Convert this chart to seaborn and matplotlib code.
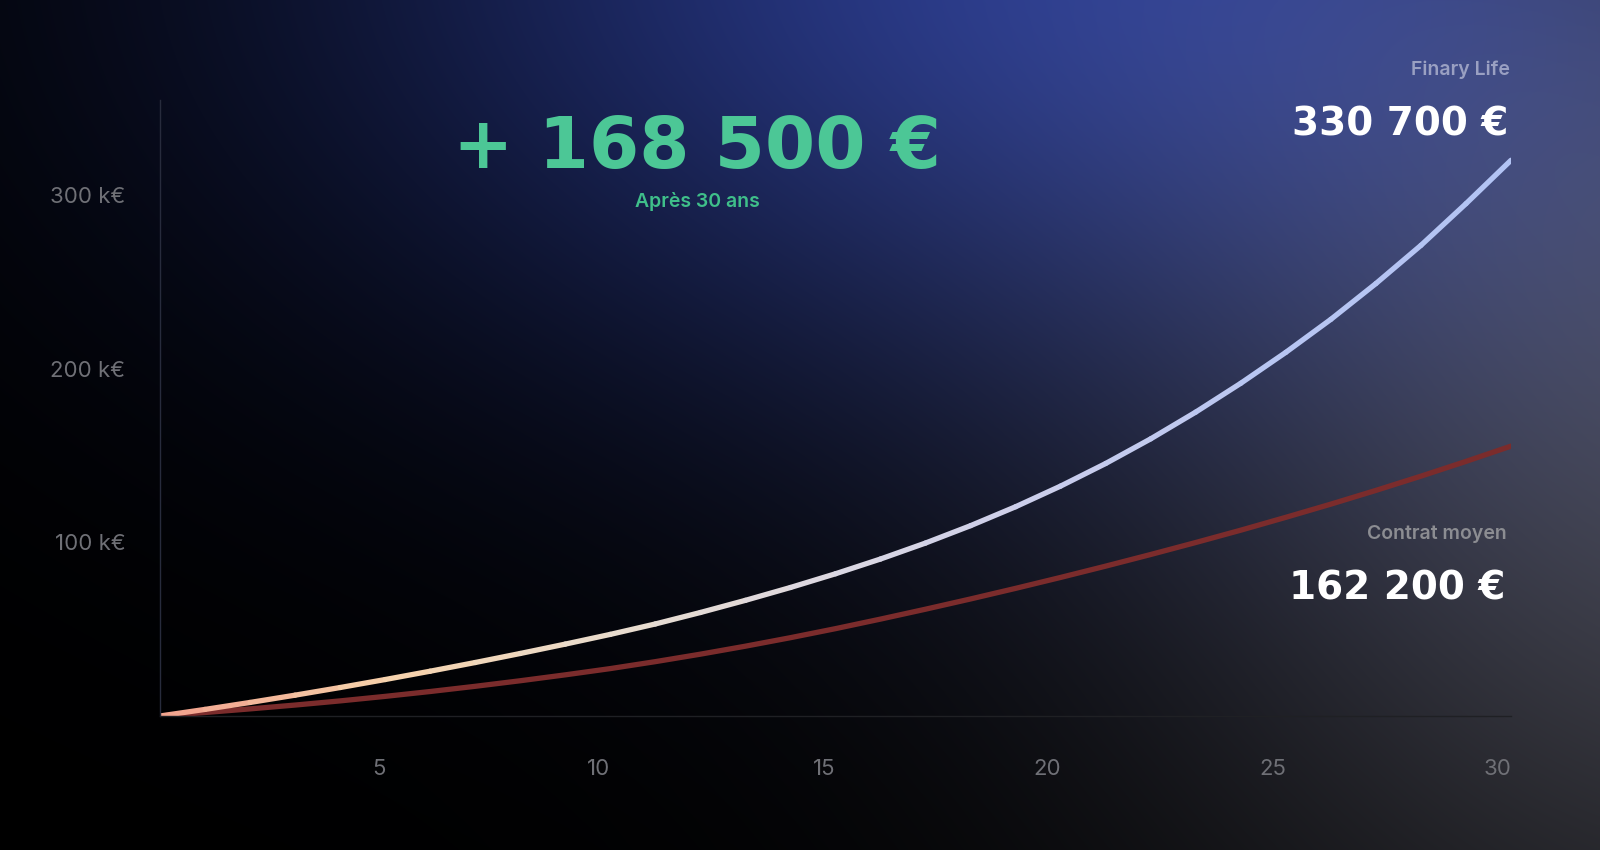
import numpy as np
import pandas as pd
import seaborn as sns
import matplotlib.pyplot as plt
from matplotlib.collections import LineCollection
from matplotlib.colors import LinearSegmentedColormap


# valeurs (en k€)
annees = list(range(31))
finary_life = [0, 3.8, 7.8, 12.0, 16.4, 21.0, 25.8, 30.8, 36.0, 41.4,
               47.0, 53.0, 59.6, 66.6, 74.0, 81.9, 90.4, 99.6, 109.6, 120.5,
               132.4, 145.4, 159.6, 175.0, 191.6, 209.4, 228.4, 249.0, 271.0, 295.0, 320.0]
contrat_moyen = [0, 2.0, 4.1, 6.3, 8.7, 11.3, 14.1, 17.1, 20.3, 23.7,
                 27.3, 31.3, 35.6, 40.2, 45.1, 50.3, 55.8, 61.5, 67.4, 73.5,
                 79.8, 86.3, 93.0, 99.9, 107.0, 114.4, 122.0, 129.9, 138.1, 146.6, 155.4]
noms = ["Finary Life", "Contrat moyen"]
montants_finaux = ["330 700 €", "162 200 €"]
gain = "+ 168 500 €"
duree = "Après 30 ans"
y_ticks = [100, 200, 300]
y_labels = ["100 k€", "200 k€", "300 k€"]
x_ticks = [5, 10, 15, 20, 25, 30]

W, H = 1600, 850


def fond_degrade():
    yy, xx = np.mgrid[0:H, 0:W]
    bleu = np.exp(-(((xx - 1060) / 760) ** 2 + ((yy + 60) / 450) ** 2))
    gris = np.exp(-(((xx - 1760) / 620) ** 2 + ((yy - 420) / 640) ** 2))
    img = bleu[..., None] * np.array([0.145, 0.21, 0.52]) \
        + gris[..., None] * np.array([0.26, 0.26, 0.29])
    return np.clip(img, 0, 1)


sns.set_theme(style="dark")
plt.rcParams['font.family'] = ['Inter', 'DejaVu Sans']

fig = plt.figure(figsize=(16, 8.5), dpi=100)
bg = fig.add_axes([0, 0, 1, 1], zorder=0)
bg.imshow(fond_degrade(), aspect="auto", extent=[0, 1, 0, 1], interpolation="bilinear")
bg.axis("off")

ax = fig.add_axes([160 / W, 1 - 716 / H, (1511 - 160) / W, (716 - 100) / H], zorder=1)
ax.set_facecolor("none")

df = pd.DataFrame({
    "annee": annees * 2,
    "valeur": finary_life + contrat_moyen,
    "contrat": [noms[0]] * len(annees) + [noms[1]] * len(annees),
})

sns.lineplot(data=df[df["contrat"] == noms[1]], x="annee", y="valeur",
             color="#7b2c2c", lw=3.8, ax=ax, solid_capstyle="round")
sns.lineplot(data=df[df["contrat"] == noms[0]], x="annee", y="valeur",
             color="#c8cff0", lw=3.8, ax=ax)

# degrade sur la courbe Finary Life
ligne = ax.lines[-1]
pts = ligne.get_xydata()
ligne.set_visible(False)
segments = np.stack([pts[:-1], pts[1:]], axis=1)
cmap = LinearSegmentedColormap.from_list(
    "finary", ["#f2a08c", "#f7d2ab", "#e9dccd", "#dcd8e2", "#c9cdec", "#b7c5f2", "#b3c4f4"])
lc = LineCollection(segments, cmap=cmap, linewidths=3.8, capstyle="round", joinstyle="round")
lc.set_array((pts[:-1, 0] + pts[1:, 0]) / 2)
lc.set_clim(0, 30)
ax.add_collection(lc)

ax.set_xlim(0, 30)
ax.set_ylim(0, 354.7)
ax.set_xticks(x_ticks)
ax.set_yticks(y_ticks)
ax.set_yticklabels(y_labels)
ax.set_xlabel("")
ax.set_ylabel("")
ax.grid(False)
ax.tick_params(axis="both", length=0, labelsize=16, colors="#6f7076")
ax.tick_params(axis="y", pad=25)
ax.tick_params(axis="x", pad=31)
for lbl in ax.get_xticklabels():
    lbl.set_ha("right")

for side in ["top", "right"]:
    ax.spines[side].set_visible(False)
ax.spines["left"].set_color("#272b3c")
ax.spines["left"].set_linewidth(1)
ax.spines["bottom"].set_color("#1f2024")
ax.spines["bottom"].set_linewidth(1)


def px(x, y):
    return x / W, 1 - y / H


fig.text(*px(697, 168), gain, ha="center", va="baseline", fontsize=52,
         fontweight="bold", family="DejaVu Sans", color="#4cc796")
fig.text(*px(697, 207), duree, ha="center", va="baseline", fontsize=14,
         fontweight="semibold", color="#3fbf8a")

fig.text(*px(1510, 75), noms[0], ha="right", va="baseline", fontsize=14,
         fontweight="semibold", color="#9aa0c2")
fig.text(*px(1508, 136), montants_finaux[0], ha="right", va="baseline", fontsize=28,
         fontweight="bold", family="DejaVu Sans", color="white")
fig.text(*px(1507, 539), noms[1], ha="right", va="baseline", fontsize=14,
         fontweight="semibold", color="#8c8d92")
fig.text(*px(1505, 600), montants_finaux[1], ha="right", va="baseline", fontsize=28,
         fontweight="bold", family="DejaVu Sans", color="white")

fig.savefig("out.png", dpi=100, facecolor="black")
